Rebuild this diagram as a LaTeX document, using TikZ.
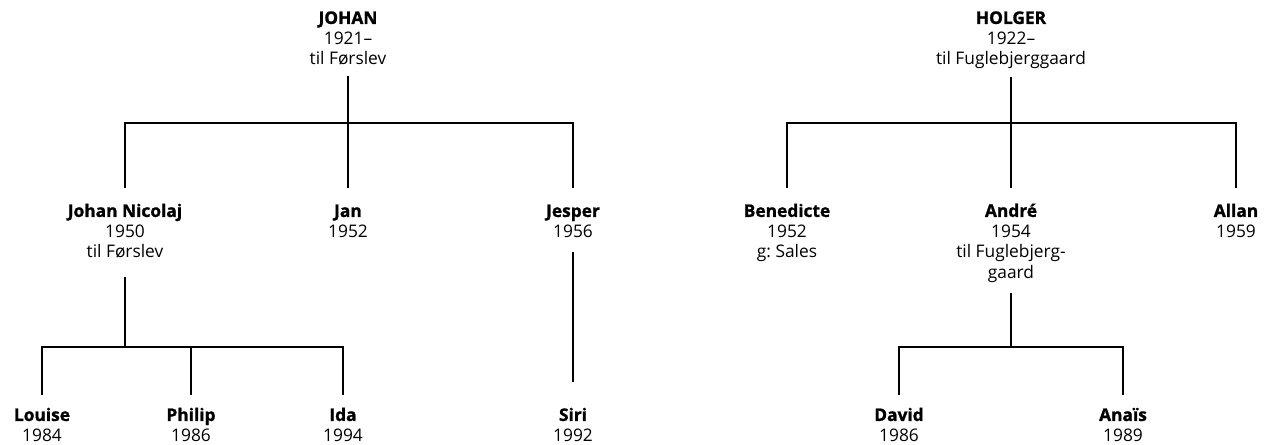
\documentclass[tikz,border=0pt]{standalone}
\usepackage{fontspec}
\setmainfont{Open Sans}[BoldFeatures={FakeBold=1.2}]
\usepackage{tikz}
\tikzstyle{person} = [anchor=base, align=center, inner sep=0pt, font=\fontsize{13pt}{15.4pt}\selectfont]
\tikzstyle{branch} = [line width=1.2pt, color=black]

\begin{document}
\begin{tikzpicture}[x=0.75pt,y=-0.75pt]
\useasboundingbox (0,0) rectangle (1267,445);
% Johan (nodes sit on the baseline of their last line)
\node[person] (johan) at (348,65) {\textbf{JOHAN}\\1921–\\til Førslev};
\node[person] (jn) at (125,258) {\textbf{Johan Nicolaj}\\1950\\til Førslev};
\node[person] (jan) at (348,237.5) {\textbf{Jan}\\1952};
\node[person] (jesper) at (573,237.5) {\textbf{Jesper}\\1956};
\node[person] (louise) at (42,441.5) {\textbf{Louise}\\1984};
\node[person] (philip) at (191,441.5) {\textbf{Philip}\\1986};
\node[person] (ida) at (343,441.5) {\textbf{Ida}\\1994};
\node[person] (siri) at (573,441.5) {\textbf{Siri}\\1992};
% Holger
\node[person] (holger) at (1011,65) {\textbf{HOLGER}\\1922–\\til Fuglebjerggaard};
\node[person] (bene) at (787,258) {\textbf{Benedicte}\\1952\\g:\ Sales};
\node[person] (andre) at (1011,278.5) {\textbf{André}\\1954\\til Fuglebjerg-\\gaard};
\node[person] (allan) at (1236,237.5) {\textbf{Allan}\\1959};
\node[person] (david) at (899,441.5) {\textbf{David}\\1986};
\node[person] (anais) at (1123,441.5) {\textbf{Anaïs}\\1989};

% lines
\draw[branch] (johan |- 0,76) -- (jan |- 0,188);
\draw[branch] (jn |- 0,188) |- (jesper |- 0,123) -- (jesper |- 0,188);
\draw[branch] (jn |- 0,277) -- (jn |- 0,347);
\draw[branch] (louise |- 0,395) |- (ida |- 0,347) -- (ida |- 0,395);
\draw[branch] (philip |- 0,395) -- (philip |- 0,347);
\draw[branch] (jesper |- 0,252) -- (siri |- 0,382);
\draw[branch] (holger |- 0,77) -- (andre |- 0,188);
\draw[branch] (bene |- 0,188) |- (allan |- 0,123) -- (allan |- 0,188);
\draw[branch] (andre |- 0,293) -- (andre |- 0,347);
\draw[branch] (david |- 0,395) |- (anais |- 0,347) -- (anais |- 0,395);
\end{tikzpicture}
\end{document}
